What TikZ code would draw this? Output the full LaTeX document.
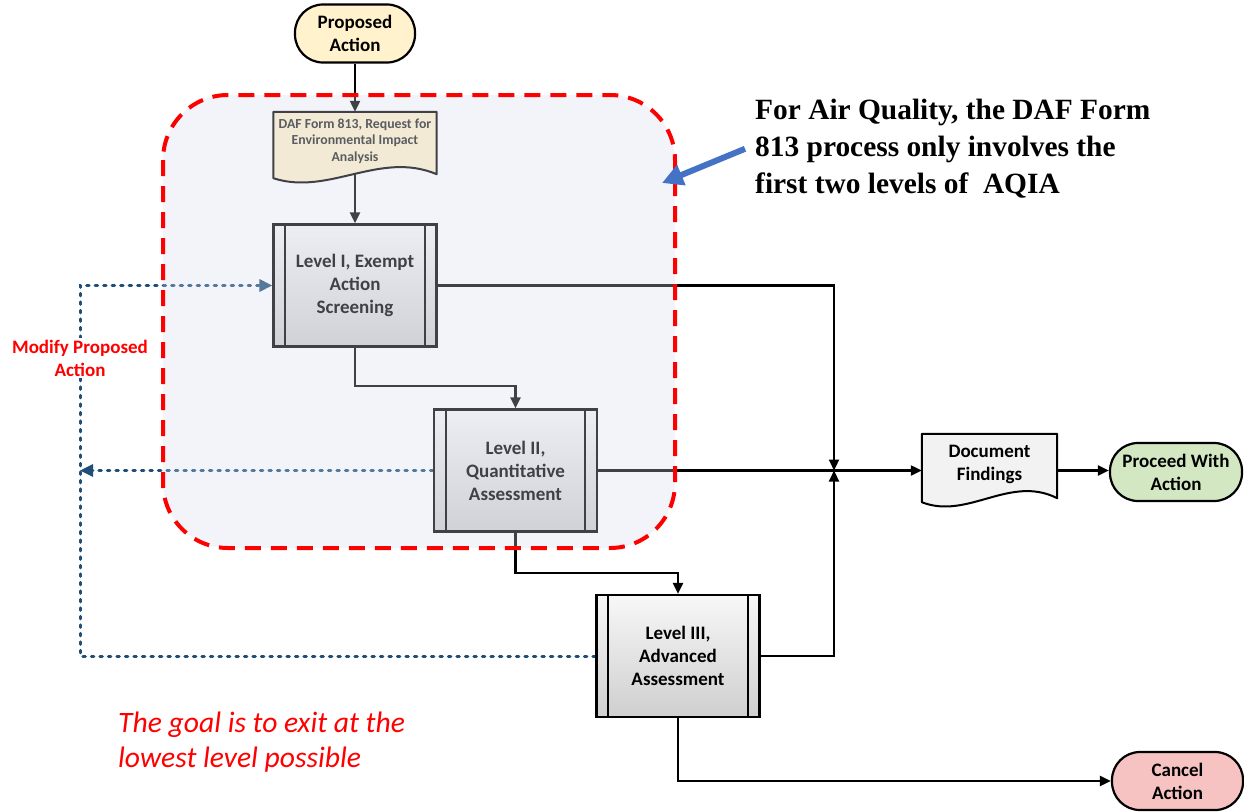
\documentclass[tikz,border=0pt]{standalone}
\usepackage{fontspec}
\setmainfont{Carlito}
\newfontfamily\notefont{Liberation Serif}
\usetikzlibrary{arrows.meta,calc}
\pgfdeclarelayer{bg}
\pgfdeclarelayer{docs}
\pgfdeclarelayer{fg}
\pgfsetlayers{bg,docs,main,fg}

\definecolor{termyellow}{HTML}{FFF2CC}
\definecolor{termgreen}{HTML}{D2E7C2}
\definecolor{termred}{HTML}{F6C2C2}
\definecolor{fbblue}{HTML}{1F4E79}
\definecolor{calloutblue}{HTML}{4472C4}
\definecolor{veil}{RGB}{214,218,235}
\definecolor{docgray}{HTML}{F2F2F2}

\tikzset{
  lbl/.style={font=\bfseries\fontsize{19}{23}\selectfont, align=center},
  terminal/.style={lbl, draw, line width=2.2pt, rounded corners=28pt,
    minimum width=#1, minimum height=58pt, inner sep=0pt},
  proc/.style={lbl, draw, line width=2.2pt, top color=black!3, bottom color=black!19,
    minimum width=163pt, minimum height=122pt, inner sep=0pt},
  docbox/.style={lbl, inner sep=0pt},
  docline/.style={draw, line width=2pt, line join=round},
  flow/.style={line width=2.2pt, -{Triangle[length=11pt,width=10pt]}},
  fb/.style={fbblue, line width=3pt, line cap=round, dash pattern=on 2.5pt off 6pt},
  fbtip/.style={-{Triangle[length=13pt,width=12pt]}}
}

% wavy-bottom document outline around a node: name, width, style
\newcommand\docoutline[3]{%
  \path[docline, #3] (#1.north west) -- (#1.north east) -- ($(#1.south east)+(0,4)$)
    .. controls ($(#1.south east)+({-0.35*#2},-20)$) and ($(#1.south west)+({0.34*#2},26)$)
    .. ($(#1.south west)+(0,8)$) -- cycle;}

\begin{document}
\begin{tikzpicture}[x=1pt,y=-1pt]
\useasboundingbox (0,0) rectangle (1244,811);

% ---- nodes
\node[terminal=120pt, fill=termyellow] (prop) at (355,33.5) {Proposed\\Action};
\node[docbox, minimum width=163pt, minimum height=58pt, text=black!85,
      font=\bfseries\fontsize{13.8}{16.5}\selectfont] (daf) at (355,141)
      {DAF Form 813, Request for\\Environmental Impact\\Analysis};
\node[proc] (lev1) at (355,285.5) {Level I, Exempt\\Action\\Screening};
\node[proc] (lev2) at (515.5,470.5) {Level II,\\Quantitative\\Assessment};
\node[proc] (lev3) at (678,656) {Level III,\\Advanced\\Assessment};
\foreach \n in {lev1,lev2,lev3}{
  \draw[line width=2pt] ([xshift=13pt]\n.north west) -- ([xshift=13pt]\n.south west)
                        ([xshift=-13pt]\n.north east) -- ([xshift=-13pt]\n.south east);
}
\node[docbox, minimum width=135pt, minimum height=60pt] (docf) at (989.5,464) {Document\\Findings};
\node[terminal=132pt, fill=termgreen] (pro) at (1176,472) {Proceed With\\Action};
\node[terminal=131pt, fill=termred] (can) at (1177.5,781) {Cancel\\Action};
\node[lbl, text=red, fill=white, inner sep=2pt] (modify) at (80,358) {Modify Proposed\\Action};

\coordinate (jn) at (834,470.5);
\coordinate (fbtop) at (80,285.5);

% ---- document outlines
\begin{pgfonlayer}{docs}
  \docoutline{daf}{163}{fill=termyellow, draw=black}
  \docoutline{docf}{135}{fill=docgray, draw=black}
\end{pgfonlayer}

% ---- connectors
\begin{pgfonlayer}{bg}
  \draw[flow] (prop.south) -- (daf.north);
  \draw[flow] (daf.center) -- (lev1.north);
  \draw[flow] (lev1.south) -- ++(0,38) -| (lev2.north);
  \draw[flow] (lev2.south) -- ++(0,40) -| (lev3.north);
  \draw[flow] (lev1.east) -| (jn);
  \draw[flow] (lev3.east) -| (jn);
  \draw[flow] (lev2.east) -- (lev2.east -| docf.west);
  \draw[flow] (lev2.east -| docf.east) -- (lev2.east -| pro.west);
  \draw[flow] (lev3.south) |- (can.west);
  \draw[fb, fbtip] (lev3.west) -| (fbtop) -- (lev1.west);
  \draw[fb, fbtip] (lev2.west) -- (lev2.west -| fbtop);
\end{pgfonlayer}

% ---- scope of the DAF Form 813 process, note and callout
\begin{pgfonlayer}{fg}
  \fill[veil, opacity=0.3, rounded corners=65pt] (163,95) rectangle (675,548);
  \draw[red, line width=4pt, dash pattern=on 16pt off 10pt, rounded corners=65pt]
    (163,95) rectangle (675,548);
  \node[font=\notefont\bfseries\fontsize{29.4}{37}\selectfont, align=left,
        anchor=north west, inner sep=0pt] (note) at (755,99)
        {For Air Quality, the DAF Form\\813 process only involves the\\first two levels of\ \ AQIA};
  \coordinate (notetip) at (662,183);
  \draw[calloutblue, line width=6pt, -{Triangle[length=21pt,width=21pt]}]
    ([xshift=-10pt]note.west) -- (notetip);
  \node[font=\itshape\fontsize{29.6}{35}\selectfont, text=red, align=left,
        anchor=north west, inner sep=0pt] (goal) at (118,712)
        {The goal is to exit at the\\lowest level possible};
\end{pgfonlayer}
\end{tikzpicture}
\end{document}
